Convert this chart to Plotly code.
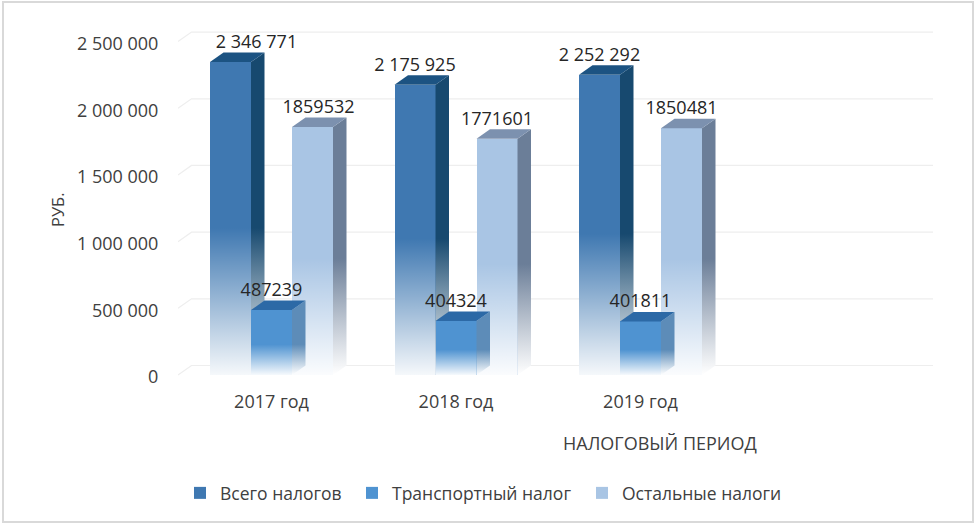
import plotly.graph_objects as go

categories = ["2017 год", "2018 год", "2019 год"]
total_taxes = [2346771, 2175925, 2252292]
transport_tax = [487239, 404324, 401811]
other_taxes = [1859532, 1771601, 1850481]
total_labels = ["2 346 771", "2 175 925", "2 252 292"]
transport_labels = ["487239", "404324", "401811"]
other_labels = ["1859532", "1771601", "1850481"]
tick_values = [0, 500000, 1000000, 1500000, 2000000, 2500000]
tick_labels = ["0", "500 000", "1 000 000", "1 500 000", "2 000 000", "2 500 000"]
series_names = ["Всего налогов", "Транспортный налог", "Остальные налоги"]

W, H = 976, 525
PX_LEFT, PX_RIGHT, PX_TOP, PX_BOTTOM = 178, 933, 22, 378
PX_ZERO = 375
PX_PER_CAT = 184.5
PX_PER_VAL = 333.4 / 2500000
XMIN = (PX_LEFT - 271.5) / PX_PER_CAT
XMAX = XMIN + (PX_RIGHT - PX_LEFT) / PX_PER_CAT
YMIN = -(PX_BOTTOM - PX_ZERO) / PX_PER_VAL
YMAX = (PX_ZERO - PX_TOP) / PX_PER_VAL
DX = 13.5 / PX_PER_CAT
DY = 9.5 / PX_PER_VAL
BAR_W = 41 / PX_PER_CAT
LABEL_DY = 18.5 / PX_PER_VAL
FONT = "Open Sans"
TXT = "#404040"
GRID = "#eeeeee"
FADE_FROM = 0.47

fig = go.Figure()


def grad(col, top_y, fade_y, bottom_col="rgba(255,255,255,0.95)"):
    frac = max(0.0, min(1.0, fade_y / top_y))
    return dict(type="vertical", start=0, stop=top_y,
                colorscale=[[0, bottom_col], [frac, col], [1, col]])


for v in tick_values:
    fig.add_trace(go.Scatter(
        x=[XMIN, XMIN + DX, XMAX], y=[v, v + DY, v + DY], mode="lines",
        line=dict(color=GRID, width=1.2), hoverinfo="skip", showlegend=False,
        xaxis="x", yaxis="y"))


def add_series(vals, offset, name, rank, front, side, top, xa, ya, fade_ratio):
    xs = [i + offset for i in range(len(vals))]
    fig.add_trace(go.Bar(
        x=xs, y=vals, width=BAR_W, name=name, legendrank=rank,
        marker=dict(color=front, line=dict(width=0)), xaxis=xa, yaxis=ya,
        legendwidth={1: 127, 2: 185, 3: 160}[rank]))
    for x, v in zip(xs, vals):
        l, r = x - BAR_W / 2, x + BAR_W / 2
        fade = v * fade_ratio
        # white fade over the lower part of the front face
        fig.add_trace(go.Scatter(
            x=[l, r, r, l, l], y=[YMIN, YMIN, fade, fade, YMIN], mode="lines", line=dict(width=0),
            fill="toself", showlegend=False, hoverinfo="skip", xaxis=xa, yaxis=ya,
            fillgradient=dict(type="vertical", start=0, stop=fade,
                              colorscale=[[0, "rgba(255,255,255,0.95)"],
                                          [1, "rgba(255,255,255,0)"]])))
        # right side face
        fig.add_trace(go.Scatter(
            x=[r, r + DX, r + DX, r, r], y=[0, DY, v + DY, v, 0], mode="lines",
            line=dict(width=0), fill="toself", showlegend=False, hoverinfo="skip",
            xaxis=xa, yaxis=ya, fillgradient=grad(side, v + DY, fade)))
        # top face
        fig.add_trace(go.Scatter(
            x=[l, r, r + DX, l + DX, l], y=[v, v, v + DY, v + DY, v], mode="lines",
            line=dict(width=0), fill="toself", fillcolor=top, showlegend=False,
            hoverinfo="skip", xaxis=xa, yaxis=ya))


add_series(total_taxes, -BAR_W, series_names[0], 1, "#3f78b1", "#17496f", "#1c5382", "x2", "y2", FADE_FROM)
add_series(other_taxes, BAR_W, series_names[2], 3, "#a9c5e4", "#6b7e98", "#7c91af", "x2", "y2", FADE_FROM)
add_series(transport_tax, 0, series_names[1], 2, "#4f93d1", "#5d8cb8", "#2c69a6", "x3", "y3", FADE_FROM)

label_shift = {(0, 0): 26, (2, 0): 6}
for s, (vals, labs, off) in enumerate([(total_taxes, total_labels, -BAR_W),
                                       (transport_tax, transport_labels, 0),
                                       (other_taxes, other_labels, BAR_W)]):
    xs = [i + off + label_shift.get((s, i), 0) / PX_PER_CAT for i in range(len(vals))]
    fig.add_trace(go.Scatter(
        x=xs, y=[v + LABEL_DY for v in vals], text=labs, mode="text",
        textposition="middle center", textfont=dict(family=FONT, size=18, color="#262626"),
        showlegend=False, hoverinfo="skip", xaxis="x3", yaxis="y3", cliponaxis=False))

dom_x = [PX_LEFT / W, PX_RIGHT / W]
dom_y = [1 - PX_BOTTOM / H, 1 - PX_TOP / H]
overlay_x = dict(domain=dom_x, range=[XMIN, XMAX], overlaying="x", visible=False, fixedrange=True)
overlay_y = dict(domain=dom_y, range=[YMIN, YMAX], overlaying="y", visible=False, fixedrange=True)
fig.update_layout(
    width=W, height=H, autosize=False, barmode="overlay", bargap=0,
    paper_bgcolor="white", plot_bgcolor="white",
    margin=dict(l=0, r=0, t=0, b=0, autoexpand=False),
    font=dict(family=FONT, color=TXT, size=15),
    xaxis=dict(domain=dom_x, range=[XMIN, XMAX], tickmode="array", automargin=False,
               tickvals=[0, 1, 2], ticktext=categories, showgrid=False, zeroline=False,
               showline=False, ticks="outside", ticklen=7, tickcolor="rgba(0,0,0,0)",
               tickfont=dict(size=18, family=FONT, color=TXT), fixedrange=True),
    yaxis=dict(domain=dom_y, range=[YMIN, YMAX], tickmode="array", tickvals=tick_values, automargin=False,
               ticktext=tick_labels, showgrid=False, zeroline=False, showline=False,
               ticks="outside", ticklen=15, tickcolor="rgba(0,0,0,0)", ticklabelshift=2,
               tickfont=dict(size=18, family=FONT, color=TXT), fixedrange=True),
    xaxis2=overlay_x, yaxis2=overlay_y, xaxis3=overlay_x, yaxis3=overlay_y,
    legend=dict(orientation="h", xref="paper", yref="paper", x=180 / W, y=1 - 493 / H,
                xanchor="left", yanchor="middle", bgcolor="rgba(0,0,0,0)",
                font=dict(size=17.5, family=FONT, color=TXT), itemwidth=30,
                traceorder="normal", itemclick=False, itemdoubleclick=False),
    annotations=[
        dict(text="НАЛОГОВЫЙ ПЕРИОД", x=660 / W, y=1 - 443 / H, xref="paper", yref="paper",
             xanchor="center", yanchor="middle",
             showarrow=False, font=dict(size=18, family=FONT, color=TXT)),
        dict(text="РУБ.", x=57 / W, y=1 - 210 / H, xref="paper", yref="paper", textangle=-90,
             xanchor="center", yanchor="middle",
             showarrow=False, font=dict(size=16.5, family=FONT, color=TXT)),
    ],
    shapes=[dict(type="rect", xref="paper", yref="paper", x0=3 / W, x1=973 / W, y0=1 - 522 / H, y1=1 - 2 / H,
                 line=dict(color="#d9d9d9", width=2), fillcolor="rgba(0,0,0,0)", layer="below")],
)
fig.write_html("out.html", config={"displayModeBar": False},
               post_script="document.body.style.margin='0';")
